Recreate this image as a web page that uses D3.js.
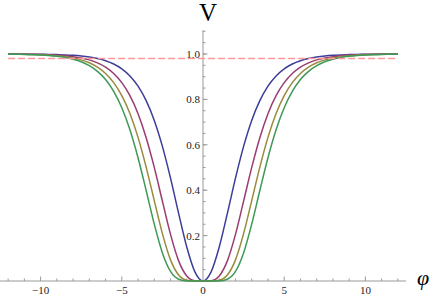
<!DOCTYPE html>
<html>
<head>
<meta charset="utf-8">
<script src="https://cdn.jsdelivr.net/npm/d3@7"></script>
<style>
  body { margin: 0; background: #fff; }
  text { font-family: "Liberation Serif", "DejaVu Serif", serif; }
</style>
</head>
<body>
<svg id="chart" width="432" height="295"></svg>
<script>
// phi values, -12 .. 12
var phi = [-12,-11.5,-11,-10.5,-10,-9.5,-9,-8.5,-8,-7.5,-7,-6.5,-6,-5.5,-5,-4.5,-4,-3.5,-3,-2.5,-2,-1.5,-1,-0.5,
  0,0.5,1,1.5,2,2.5,3,3.5,4,4.5,5,5.5,6,6.5,7,7.5,8,8.5,9,9.5,10,10.5,11,11.5,12];

// V for each curve
var blue = [0.9998,0.9997,0.9995,0.9992,0.9989,0.9983,0.9974,0.9961,0.9942,0.9913,0.9869,0.9803,0.9706,0.9561,0.9347,0.9035,0.8584,0.7946,0.7074,0.5931,0.4532,0.2979,0.1498,0.0405,
  0,0.0405,0.1498,0.2979,0.4532,0.5931,0.7074,0.7946,0.8584,0.9035,0.9347,0.9561,0.9706,0.9803,0.9869,0.9913,0.9942,0.9961,0.9974,0.9983,0.9989,0.9992,0.9995,0.9997,0.9998];
var purple = [0.9996,0.9994,0.9990,0.9984,0.9978,0.9966,0.9948,0.9922,0.9884,0.9827,0.9740,0.9610,0.9421,0.9141,0.8737,0.8163,0.7369,0.6314,0.5004,0.3518,0.2054,0.0887,0.0224,0.0016,
  0,0.0016,0.0224,0.0887,0.2054,0.3518,0.5004,0.6314,0.7369,0.8163,0.8737,0.9141,0.9421,0.9610,0.9740,0.9827,0.9884,0.9922,0.9948,0.9966,0.9978,0.9984,0.9990,0.9994,0.9996];
var olive = [0.9994,0.9991,0.9985,0.9976,0.9967,0.9949,0.9922,0.9884,0.9827,0.9741,0.9612,0.9421,0.9144,0.8740,0.8167,0.7375,0.6326,0.5017,0.3540,0.2087,0.0931,0.0264,0.0034,0.0001,
  0,0.0001,0.0034,0.0264,0.0931,0.2087,0.3540,0.5017,0.6326,0.7375,0.8167,0.8740,0.9144,0.9421,0.9612,0.9741,0.9827,0.9884,0.9922,0.9949,0.9967,0.9976,0.9985,0.9991,0.9994];
var green = [0.9992,0.9988,0.9980,0.9968,0.9956,0.9932,0.9896,0.9845,0.9769,0.9657,0.9487,0.9235,0.8876,0.8356,0.7634,0.6663,0.5430,0.3987,0.2504,0.1238,0.0422,0.0079,0.0005,0.0000,
  0,0.0000,0.0005,0.0079,0.0422,0.1238,0.2504,0.3987,0.5430,0.6663,0.7634,0.8356,0.8876,0.9235,0.9487,0.9657,0.9769,0.9845,0.9896,0.9932,0.9956,0.9968,0.9980,0.9988,0.9992];

var seriesColors = ["#3d3d99", "#993d71", "#998b3d", "#3d9957"];
var dashLevel = 0.98;
var dashRange = [-12, 12];

var xTicks = [-10, -5, 5, 10];
var yTicks = [0.2, 0.4, 0.6, 0.8, 1.0];

var svg = d3.select("#chart");

var x = d3.scaleLinear().domain([-12.5, 12.5]).range([0, 406]);
var y = d3.scaleLinear().domain([0, 1]).range([281, 54]);

var axisColor = "#999";

// x axis
var gx = svg.append("g");
gx.append("line")
  .attr("x1", x(-12.5)).attr("x2", x(12.5))
  .attr("y1", y(0)).attr("y2", y(0))
  .attr("stroke", axisColor).attr("stroke-width", 1);

gx.selectAll(".minor").data(d3.range(-12, 13).filter(function(d){ return d !== 0 && d % 5 !== 0; }))
  .enter().append("line")
  .attr("x1", function(d){ return x(d); }).attr("x2", function(d){ return x(d); })
  .attr("y1", y(0)).attr("y2", y(0) - 2.5)
  .attr("stroke", axisColor);

gx.selectAll(".major").data(xTicks).enter().append("line")
  .attr("x1", function(d){ return x(d); }).attr("x2", function(d){ return x(d); })
  .attr("y1", y(0)).attr("y2", y(0) - 4.5)
  .attr("stroke", axisColor);

gx.selectAll("text").data(xTicks.concat([0])).enter().append("text")
  .attr("x", function(d){ return x(d); })
  .attr("y", y(0) + 12.5)
  .attr("text-anchor", "middle")
  .attr("font-size", 11)
  .attr("fill", "#222")
  .text(function(d){ return d < 0 ? "\u2212" + Math.abs(d) : d; });

// y axis
var gy = svg.append("g");
gy.append("line")
  .attr("x1", x(0)).attr("x2", x(0))
  .attr("y1", y(0)).attr("y2", y(1.105))
  .attr("stroke", axisColor);

gy.selectAll(".minor").data(d3.range(1, 23).map(function(i){ return i * 0.05; }))
  .enter().append("line")
  .attr("x1", x(0)).attr("x2", x(0) + 2.5)
  .attr("y1", function(d){ return y(d); }).attr("y2", function(d){ return y(d); })
  .attr("stroke", axisColor);

gy.selectAll(".major").data(yTicks).enter().append("line")
  .attr("x1", x(0)).attr("x2", x(0) + 4.5)
  .attr("y1", function(d){ return y(d); }).attr("y2", function(d){ return y(d); })
  .attr("stroke", axisColor);

gy.selectAll("text").data(yTicks).enter().append("text")
  .attr("x", x(0) - 3)
  .attr("y", function(d){ return y(d) + 4; })
  .attr("text-anchor", "end")
  .attr("font-size", 11)
  .attr("fill", "#222")
  .text(function(d){ return d3.format(".1f")(d); });

// curves
var line = d3.line()
  .x(function(d){ return x(d[0]); })
  .y(function(d){ return y(d[1]); })
  .curve(d3.curveMonotoneX);

[blue, purple, olive, green].forEach(function(vals, i){
  svg.append("path")
    .datum(phi.map(function(p, j){ return [p, vals[j]]; }))
    .attr("d", line)
    .attr("fill", "none")
    .attr("stroke", seriesColors[i])
    .attr("stroke-width", 1.5);
});

// dashed reference line
svg.append("line")
  .attr("x1", x(dashRange[0])).attr("x2", x(dashRange[1]))
  .attr("y1", y(dashLevel)).attr("y2", y(dashLevel))
  .attr("stroke", "#ff9a9a")
  .attr("stroke-width", 1.5)
  .attr("stroke-dasharray", "7,3");

// axis labels
svg.append("text")
  .attr("x", x(0) + 5)
  .attr("y", 21)
  .attr("text-anchor", "middle")
  .attr("font-size", 25)
  .attr("fill", "#000")
  .text("V");

svg.append("text")
  .attr("x", 423)
  .attr("y", 285)
  .attr("text-anchor", "middle")
  .attr("font-size", 22)
  .attr("font-style", "italic")
  .attr("fill", "#000")
  .text("\u03c6");
</script>
</body>
</html>
